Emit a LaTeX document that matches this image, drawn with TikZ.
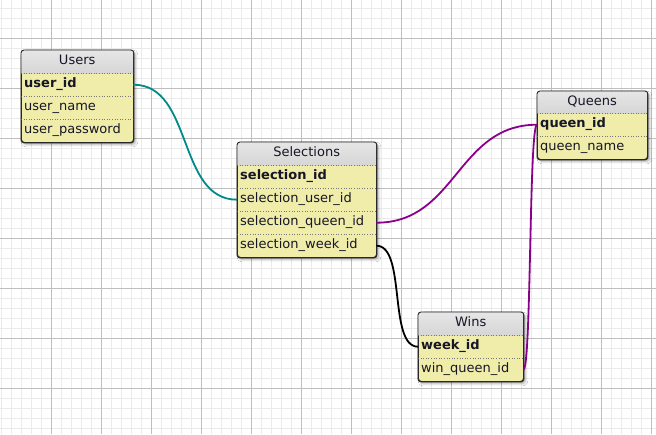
\documentclass[tikz,border=0pt]{standalone}
\usepackage{fontspec}
\setmainfont{DejaVu Sans}
\usetikzlibrary{shadows.blur}

\definecolor{rowfill}{RGB}{240,237,171}
\definecolor{headtop}{RGB}{230,230,230}
\definecolor{headbot}{RGB}{214,214,214}
\definecolor{gridminor}{RGB}{234,234,234}
\definecolor{gridmajor}{RGB}{190,190,190}
\definecolor{framecol}{RGB}{40,40,40}
\definecolor{sepcol}{RGB}{120,120,120}
\definecolor{inkcol}{RGB}{22,22,38}
\definecolor{linkteal}{RGB}{0,138,138}
\definecolor{linkpurple}{RGB}{138,0,138}

\tikzset{
  tableframe/.style={anchor=north west, draw=framecol, line width=0.9pt,
    fill=rowfill, rounded corners=3pt, inner sep=0pt,
    blur shadow={shadow xshift=2pt, shadow yshift=-2pt,
      shadow blur radius=2.5pt, shadow opacity=35}},
  framerim/.style={draw=framecol, line width=0.9pt, rounded corners=3pt},
  headtext/.style={anchor=north west, inner sep=0pt, minimum height=23pt,
    text height=9.5pt, text depth=3pt, text=inkcol,
    font=\fontsize{13}{15}\selectfont},
  rowtext/.style={anchor=north west, inner xsep=3pt, inner ysep=0pt,
    minimum height=23pt, text height=9pt, text depth=3pt, align=left,
    text=inkcol, font=\fontsize{13}{15}\selectfont},
  keytext/.style={rowtext, font=\fontsize{13}{15}\selectfont\bfseries},
  sepline/.style={draw=sepcol, line width=0.6pt, dotted},
  link/.style={line width=1.8pt},
}

\begin{document}
\begin{tikzpicture}[x=1pt,y=-1pt]
\useasboundingbox (0,0) rectangle (656,434);
\fill[white] (0,0) rectangle (656,434);

% background grid
\foreach \i in {0,...,65}
  \draw[gridminor, line width=1pt] ({1.5+10*\i},0) -- ({1.5+10*\i},434);
\foreach \i in {0,...,42}
  \draw[gridminor, line width=1pt] (0,{8.5+10*\i}) -- (656,{8.5+10*\i});
\foreach \i in {0,...,12}
  \draw[gridmajor, line width=1pt] ({51.5+50*\i},0) -- ({51.5+50*\i},434);
\foreach \i in {0,...,7}
  \draw[gridmajor, line width=1pt] (0,{38.5+50*\i}) -- (656,{38.5+50*\i});

% ---------- Users ----------
\node[tableframe, minimum width=112pt, minimum height=92pt] (users) at (21,50) {};
\begin{scope}
  \clip[rounded corners=3pt] (users.north west) rectangle (users.south east);
  \shade[top color=headtop, bottom color=headbot] (users.north west) rectangle ++(112,23);
\end{scope}
\node[headtext, minimum width=112pt] (users-title) at (21,50) {Users};
\node[keytext, text width=106pt] (users-id) at (21,73) {user\_id};
\node[rowtext, text width=106pt] (users-name) at (21,96) {user\_name};
\node[rowtext, text width=106pt] (users-pw) at (21,119) {user\_password};
\draw[sepline] (users-title.south west) -- (users-title.south east);
\draw[sepline] (users-id.south west) -- (users-id.south east);
\draw[sepline] (users-name.south west) -- (users-name.south east);
\draw[framerim] (users.north west) rectangle (users.south east);

% ---------- Selections ----------
\node[tableframe, minimum width=139pt, minimum height=115pt] (sel) at (237,142) {};
\begin{scope}
  \clip[rounded corners=3pt] (sel.north west) rectangle (sel.south east);
  \shade[top color=headtop, bottom color=headbot] (sel.north west) rectangle ++(139,23);
\end{scope}
\node[headtext, minimum width=139pt] (sel-title) at (237,142) {Selections};
\node[keytext, text width=133pt] (sel-id) at (237,165) {selection\_id};
\node[rowtext, text width=133pt] (sel-user) at (237,188) {selection\_user\_id};
\node[rowtext, text width=133pt] (sel-queen) at (237,211) {selection\_queen\_id};
\node[rowtext, text width=133pt] (sel-week) at (237,234) {selection\_week\_id};
\draw[sepline] (sel-title.south west) -- (sel-title.south east);
\draw[sepline] (sel-id.south west) -- (sel-id.south east);
\draw[sepline] (sel-user.south west) -- (sel-user.south east);
\draw[sepline] (sel-queen.south west) -- (sel-queen.south east);
\draw[framerim] (sel.north west) rectangle (sel.south east);

% ---------- Queens ----------
\node[tableframe, minimum width=110pt, minimum height=68pt] (queens) at (537,91) {};
\begin{scope}
  \clip[rounded corners=3pt] (queens.north west) rectangle (queens.south east);
  \shade[top color=headtop, bottom color=headbot] (queens.north west) rectangle ++(110,22);
\end{scope}
\node[headtext, minimum width=110pt, minimum height=22pt] (queens-title) at (537,91) {Queens};
\node[keytext, text width=104pt] (queens-id) at (537,113) {queen\_id};
\node[rowtext, text width=104pt] (queens-name) at (537,136) {queen\_name};
\draw[sepline] (queens-title.south west) -- (queens-title.south east);
\draw[sepline] (queens-id.south west) -- (queens-id.south east);
\draw[framerim] (queens.north west) rectangle (queens.south east);

% ---------- Wins ----------
\node[tableframe, minimum width=105pt, minimum height=69pt] (wins) at (418,312) {};
\begin{scope}
  \clip[rounded corners=3pt] (wins.north west) rectangle (wins.south east);
  \shade[top color=headtop, bottom color=headbot] (wins.north west) rectangle ++(105,23);
\end{scope}
\node[headtext, minimum width=105pt] (wins-title) at (418,312) {Wins};
\node[keytext, text width=99pt] (wins-week) at (418,335) {week\_id};
\node[rowtext, text width=99pt] (wins-queen) at (418,358) {win\_queen\_id};
\draw[sepline] (wins-title.south west) -- (wins-title.south east);
\draw[sepline] (wins-week.south west) -- (wins-week.south east);
\draw[framerim] (wins.north west) rectangle (wins.south east);

% ---------- relationships ----------
\draw[link, linkteal] (users-id.east) .. controls +(60,0) and +(-60,0) .. (sel-user.west);
\draw[link, linkpurple] (sel-queen.east) .. controls +(80,0) and +(-80,0) .. (queens-id.west);
\draw[link, linkpurple] (queens-id.west) .. controls +(-8,0) and +(8,0) .. (wins-queen.east);
\draw[link, black] (sel-week.east) .. controls +(30,0) and +(-30,0) .. (wins-week.west);
\end{tikzpicture}
\end{document}
